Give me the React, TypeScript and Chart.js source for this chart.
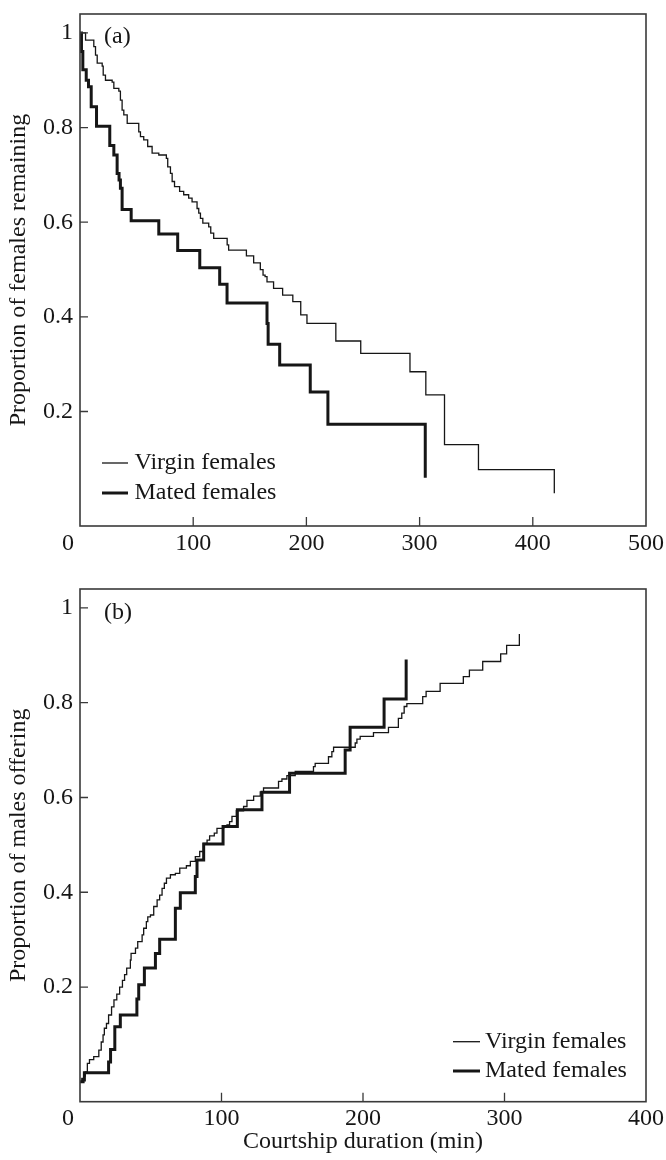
import React, { useEffect, useRef } from 'react';
import { Chart, registerables } from 'chart.js';

Chart.register(...registerables);

const SERIF = '"Liberation Serif", "Times New Roman", Times, serif';
const INK = '#161616';
const AXIS = '#3a3a3a';

// ---------- Panel (a): proportion of females remaining ----------
const virginRemainingT = [0, 4.9, 12.2, 13.7, 15.2, 19.6, 20.5, 22.5, 28.4, 29.9, 34.3, 35.7, 37.2, 38.7, 41.7, 51.9, 53.4, 56.3, 59.8, 63.7, 69.6, 76.3, 77.5, 79.9, 81.4, 83.5, 88.0, 91.6, 96.0, 99.0, 103.4, 104.9, 106.4, 108.5, 113.7, 115.5, 118.1, 130.0, 131.3, 147.0, 153.4, 159.3, 161.7, 163.5, 165.2, 171.0, 179.0, 188.0, 195.0, 200.5, 226.0, 248.0, 291.5, 305.5, 322.0, 352.0, 419.0];
const virginRemainingP = [1, 0.985, 0.971, 0.953, 0.936, 0.930, 0.911, 0.900, 0.896, 0.883, 0.877, 0.858, 0.837, 0.827, 0.809, 0.791, 0.781, 0.774, 0.760, 0.746, 0.742, 0.735, 0.717, 0.703, 0.686, 0.675, 0.665, 0.658, 0.651, 0.643, 0.629, 0.619, 0.608, 0.598, 0.590, 0.577, 0.566, 0.552, 0.541, 0.529, 0.514, 0.500, 0.488, 0.485, 0.474, 0.460, 0.446, 0.432, 0.404, 0.386, 0.349, 0.323, 0.284, 0.235, 0.130, 0.077, 0.027];

const matedRemainingT = [0, 1.3, 2.5, 5.5, 7.5, 9.9, 14.6, 26.3, 29.9, 32.8, 34.5, 35.7, 37.2, 45.2, 69.6, 86.3, 105.8, 123.4, 129.9, 165.2, 166.2, 176.4, 203.4, 219.0, 305.0];
const matedRemainingP = [1, 0.961, 0.922, 0.900, 0.886, 0.844, 0.803, 0.762, 0.742, 0.703, 0.689, 0.672, 0.627, 0.603, 0.575, 0.540, 0.504, 0.469, 0.429, 0.386, 0.342, 0.298, 0.241, 0.173, 0.060];

// ---------- Panel (b): proportion of males offering ----------
const virginOfferingT = [0, 1.3, 3.1, 3.7, 5.2, 6.7, 9.7, 13.3, 15.0, 16.3, 17.2, 18.7, 20.2, 22.3, 24.0, 26.0, 28.0, 30.0, 31.5, 33.0, 35.6, 36.1, 39.2, 40.8, 43.9, 45.0, 46.9, 47.9, 49.8, 52.1, 54.5, 56.3, 58.0, 59.6, 61.1, 63.9, 67.4, 70.5, 75.2, 78.0, 81.5, 84.6, 87.4, 89.8, 91.6, 94.9, 96.8, 101.5, 103.9, 105.7, 107.4, 110.5, 115.6, 118.0, 122.7, 127.4, 129.7, 140.3, 142.7, 146.2, 152.1, 165.0, 166.2, 175.6, 178.0, 179.2, 194.5, 195.7, 198.0, 207.4, 218.0, 225.0, 227.4, 229.1, 231.0, 242.2, 244.6, 254.5, 270.9, 275.2, 284.6, 297.3, 301.5, 310.5];
const virginOfferingP = [0, 0.007, 0.012, 0.021, 0.039, 0.047, 0.053, 0.067, 0.084, 0.099, 0.113, 0.123, 0.141, 0.158, 0.173, 0.185, 0.200, 0.214, 0.226, 0.240, 0.257, 0.271, 0.282, 0.296, 0.310, 0.324, 0.338, 0.348, 0.352, 0.370, 0.384, 0.394, 0.408, 0.419, 0.430, 0.437, 0.440, 0.451, 0.456, 0.465, 0.475, 0.486, 0.503, 0.510, 0.519, 0.525, 0.535, 0.539, 0.542, 0.549, 0.560, 0.572, 0.581, 0.594, 0.603, 0.612, 0.620, 0.634, 0.639, 0.646, 0.655, 0.665, 0.672, 0.686, 0.697, 0.706, 0.715, 0.723, 0.729, 0.737, 0.748, 0.767, 0.778, 0.792, 0.798, 0.813, 0.824, 0.841, 0.855, 0.869, 0.887, 0.903, 0.921, 0.945];

const matedOfferingT = [0, 2.2, 3.1, 20.2, 21.6, 24.6, 28.5, 40.2, 41.5, 45.5, 53.3, 56.3, 67.4, 70.9, 81.5, 82.7, 87.4, 101.1, 111.2, 128.6, 148.1, 187.4, 190.9, 214.9, 230.5];
const matedOfferingP = [0, 0.004, 0.019, 0.042, 0.068, 0.116, 0.141, 0.175, 0.205, 0.240, 0.271, 0.301, 0.366, 0.399, 0.433, 0.468, 0.502, 0.539, 0.574, 0.611, 0.651, 0.700, 0.748, 0.808, 0.891];

// ---------- Axes / labels ----------
const seriesNames = ['Virgin females', 'Mated females'];
const yTickValues = [0.2, 0.4, 0.6, 0.8, 1];
const yTickLabels = ['0.2', '0.4', '0.6', '0.8', '1'];
const xTicksA = [0, 100, 200, 300, 400, 500];
const xTicksB = [0, 100, 200, 300, 400];
const yTitleA = 'Proportion of females remaining';
const yTitleB = 'Proportion of males offering';
const xTitleB = 'Courtship duration (min)';

const toPoints = (t: number[], v: number[]) => t.map((x, i) => ({ x, y: v[i] }));

const decorPlugin = {
  id: 'panelDecor',
  afterDraw(chart: any, _args: any, o: any) {
    const ctx = chart.ctx as CanvasRenderingContext2D;
    const { left, right, top, bottom } = chart.chartArea;
    const xs = chart.scales.x;
    const ys = chart.scales.y;
    ctx.save();
    // frame
    ctx.strokeStyle = AXIS;
    ctx.lineWidth = 1.6;
    ctx.strokeRect(left, top, right - left, bottom - top);
    // inward ticks
    ctx.lineWidth = 1.3;
    ctx.beginPath();
    for (const v of o.yTicks) {
      const py = ys.getPixelForValue(v);
      ctx.moveTo(left, py);
      ctx.lineTo(left + 8, py);
    }
    for (const v of o.xTicks) {
      if (v <= xs.min || v >= xs.max) continue;
      const px = xs.getPixelForValue(v);
      ctx.moveTo(px, bottom);
      ctx.lineTo(px, bottom - 9);
    }
    ctx.stroke();
    ctx.fillStyle = INK;
    ctx.font = `24px ${SERIF}`;
    ctx.textBaseline = 'middle';
    // the zero label sits left of the axis corner
    ctx.textAlign = 'center';
    ctx.fillText(String(o.xTicks[0]), xs.getPixelForValue(o.xTicks[0]) - 12, bottom + 17.4);
    // panel letter
    ctx.textAlign = 'left';
    ctx.fillText(o.panel, o.panelX, o.panelY);
    // legend
    o.legendRows.forEach((row: number, i: number) => {
      ctx.strokeStyle = INK;
      ctx.lineWidth = o.legendWidths[i];
      ctx.beginPath();
      ctx.moveTo(o.legendX0, row);
      ctx.lineTo(o.legendX1, row);
      ctx.stroke();
      ctx.fillText(o.names[i], o.legendTextX, row);
    });
    ctx.restore();
  },
};

function buildConfig(p: any) {
  return {
    type: 'line',
    data: {
      datasets: [
        {
          label: seriesNames[0],
          data: toPoints(p.virginT, p.virginP),
          borderColor: INK,
          borderWidth: 1.3,
          pointRadius: 0,
          stepped: 'before',
          fill: false,
        },
        {
          label: seriesNames[1],
          data: toPoints(p.matedT, p.matedP),
          borderColor: INK,
          borderWidth: 3,
          pointRadius: 0,
          stepped: 'before',
          fill: false,
        },
      ],
    },
    options: {
      animation: false,
      responsive: false,
      events: [],
      layout: { padding: { top: p.padTop, right: 20, left: 0, bottom: 0 } },
      plugins: {
        legend: { display: false },
        tooltip: { enabled: false },
        panelDecor: {
          yTicks: yTickValues,
          xTicks: p.xTicks,
          panel: p.panel,
          panelX: 104,
          panelY: p.panelY,
          names: seriesNames,
          legendRows: p.legendRows,
          legendWidths: [1.3, 3],
          legendX0: p.legendX0,
          legendX1: p.legendX1,
          legendTextX: p.legendTextX,
        },
      },
      scales: {
        x: {
          type: 'linear',
          min: 0,
          max: p.xMax,
          afterBuildTicks: (s: any) => {
            s.ticks = p.xTicks.map((v: number) => ({ value: v }));
          },
          afterFit: (s: any) => {
            s.height = p.xHeight;
            s.paddingLeft = 0;
            s.paddingRight = 0;
          },
          grid: { display: false, drawTicks: false },
          border: { display: false },
          ticks: {
            padding: 3,
            autoSkip: false,
            maxRotation: 0,
            color: INK,
            font: { family: SERIF, size: 24 },
            callback: (v: number) => (v === 0 ? '' : String(v)),
          },
          title: p.xTitle
            ? {
                display: true,
                text: p.xTitle,
                color: INK,
                font: { family: SERIF, size: 24 },
                padding: { top: 0, bottom: 4 },
              }
            : { display: false },
        },
        y: {
          type: 'linear',
          min: -0.042,
          max: 1.04,
          afterBuildTicks: (s: any) => {
            s.ticks = yTickValues.map((v) => ({ value: v }));
          },
          afterFit: (s: any) => {
            s.width = 80;
            s.paddingTop = 0;
            s.paddingBottom = 0;
          },
          grid: { display: false, drawTicks: false },
          border: { display: false },
          ticks: {
            padding: 7,
            autoSkip: false,
            color: INK,
            font: { family: SERIF, size: 24 },
            callback: (_v: number, i: number) => yTickLabels[i],
          },
          title: {
            display: true,
            text: p.yTitle,
            color: INK,
            font: { family: SERIF, size: 24 },
            padding: { top: 4.6, bottom: 0 },
          },
        },
      },
    },
    plugins: [decorPlugin],
  } as any;
}

export default function App() {
  const refA = useRef<HTMLCanvasElement>(null);
  const refB = useRef<HTMLCanvasElement>(null);

  useEffect(() => {
    const a = new Chart(
      refA.current!,
      buildConfig({
        virginT: virginRemainingT,
        virginP: virginRemainingP,
        matedT: matedRemainingT,
        matedP: matedRemainingP,
        xTicks: xTicksA,
        xMax: 500,
        padTop: 14,
        xHeight: 54,
        yTitle: yTitleA,
        xTitle: null,
        panel: '(a)',
        panelY: 37,
        legendRows: [463, 493],
        legendX0: 102,
        legendX1: 128,
        legendTextX: 134.5,
      })
    );
    const b = new Chart(
      refB.current!,
      buildConfig({
        virginT: virginOfferingT,
        virginP: virginOfferingP,
        matedT: matedOfferingT,
        matedP: matedOfferingP,
        xTicks: xTicksB,
        xMax: 400,
        padTop: 9,
        xHeight: 58.3,
        yTitle: yTitleB,
        xTitle: xTitleB,
        panel: '(b)',
        panelY: 33,
        legendRows: [461.7, 491],
        legendX0: 453,
        legendX1: 480,
        legendTextX: 485,
      })
    );
    return () => {
      a.destroy();
      b.destroy();
    };
  }, []);

  return (
    <div style={{ position: 'absolute', left: 0, top: 0, width: 666, height: 1160, background: '#ffffff' }}>
      <canvas ref={refA} width={666} height={580} style={{ display: 'block', width: 666, height: 580 }} />
      <canvas ref={refB} width={666} height={580} style={{ display: 'block', width: 666, height: 580 }} />
    </div>
  );
}
